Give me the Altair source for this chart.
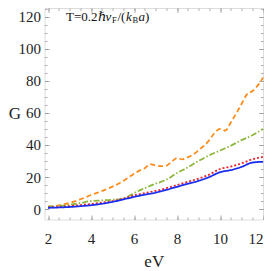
import altair as alt
import pandas as pd

# ---- data ----
orange_x = [2, 2.5, 3, 3.5, 4, 4.5, 5, 5.5, 6, 6.25, 6.5, 6.75, 7, 7.25, 7.5, 7.75, 8, 8.25, 8.5,
            8.75, 9, 9.25, 9.5, 9.75, 10, 10.25, 10.5, 10.75, 11, 11.25, 11.5, 11.75, 12]
orange_y = [1.5, 2.3, 3.8, 6, 8.8, 11.2, 14, 17.5, 22, 24, 25.5, 28, 27.3, 26.8, 27, 29.5, 31.8, 31, 32.3,
            34, 36.6, 39.5, 43, 47.5, 50, 49, 54, 59.5, 65.5, 71.5, 73.5, 77, 82]

grid_x = [2, 2.5, 3, 3.5, 4, 4.5, 5, 5.5, 6, 6.5, 7, 7.5, 8, 8.5, 9, 9.5, 10, 10.5, 11, 11.5, 12]
green_y = [1.5, 1.8, 2.6, 3.8, 5, 5.4, 5.8, 6.5, 10, 13, 15.8, 18.3, 22.5, 26, 30, 33.5, 36.5, 39.5, 43, 46, 50]
red_y = [1, 1.3, 1.8, 2.5, 3.2, 4, 5, 6.5, 8.5, 10, 11.3, 13, 15, 17, 19, 21.5, 25, 26.5, 28.5, 31, 32.5]
blue_y = [0.8, 1, 1.3, 1.8, 2.4, 3.3, 4.5, 6, 7.6, 9, 10.2, 12, 13.9, 15.8, 17.6, 20, 23, 24.3, 26.3, 29, 29.5]

series_names = ["blue", "red", "green", "orange"]
series_colors = ["#1a2ef2", "#e8262b", "#8db63c", "#ff8c1a"]
series_dash = [[1, 0], [2, 2], [6, 2, 1.5, 2], [5, 3]]

x_major = [2, 4, 6, 8, 10, 12]
x_minor = [v / 2 for v in range(4, 25)]
y_major = [0, 20, 40, 60, 80, 100, 120]
y_minor = list(range(0, 126, 5))

title_parts = ["T=0.2", "ℏ", "v", "F", "/(", "k", "B", "a", ")"]

rows = []
for x, y in zip(orange_x, orange_y):
    rows.append({"E": x, "G": y, "s": "orange"})
for name, ys in [("green", green_y), ("red", red_y), ("blue", blue_y)]:
    for x, y in zip(grid_x, ys):
        rows.append({"E": x, "G": y, "s": name})
df = pd.DataFrame(rows)

FONT = "'Liberation Serif', 'DejaVu Serif', serif"
GRAY = "#9a9a9a"
xs = alt.Scale(domain=[1.837, 12], nice=False, zero=False)
ys = alt.Scale(domain=[-6.5, 125.4], nice=False, zero=False)

base = alt.Chart(df)

lines = base.mark_line(strokeWidth=1.8, interpolate="monotone").encode(
    x=alt.X("E:Q", scale=xs, axis=alt.Axis(
        orient="bottom", values=x_major, tickSize=0, domain=False, grid=False,
        labelFont=FONT, labelFontSize=15, labelColor="#222", labelPadding=12,
        title="eV", titleFont=FONT, titleFontSize=17, titleFontWeight="normal",
        titleColor="#222", titleY=42, titleBaseline="middle")),
    y=alt.Y("G:Q", scale=ys, axis=alt.Axis(
        orient="left", values=y_major, tickSize=0, domain=False, grid=False,
        labelFont=FONT, labelFontSize=15, labelColor="#222", labelPadding=4,
        title="G", titleFont=FONT, titleFontSize=17, titleFontWeight="normal",
        titleColor="#222", titleAngle=0, titleX=-30, titleY=105,
        titleAlign="center", titleBaseline="middle")),
    color=alt.Color("s:N", scale=alt.Scale(domain=series_names, range=series_colors), legend=None),
    strokeDash=alt.StrokeDash("s:N", scale=alt.Scale(domain=series_names, range=series_dash), legend=None),
    order=alt.Order("E:Q"),
)


def tick_layer(xorient, yorient, xvals, yvals, size):
    def ax(orient, vals):
        return alt.Axis(orient=orient, values=vals, tickSize=size, offset=-size,
                        tickColor=GRAY, tickWidth=0.8, labels=False, domain=False,
                        grid=False, title=None)
    return base.mark_point(opacity=0).encode(
        x=alt.X("E:Q", scale=xs, axis=ax(xorient, xvals)),
        y=alt.Y("G:Q", scale=ys, axis=ax(yorient, yvals)),
    )


t1 = tick_layer("bottom", "left", x_major, y_major, 4.5)
t2 = tick_layer("bottom", "left", x_minor, y_minor, 2.5)
t3 = tick_layer("top", "right", x_major, y_major, 4.5)
t4 = tick_layer("top", "right", x_minor, y_minor, 2.5)

# annotation text built from pieces (sub-scripts)
tx = [21.5, 53.5, 61, 67.5, 73, 81.5, 88, 94, 100.5]
tdy = [9, 9, 9, 12, 9, 9, 12, 9, 9]
tsize = [13, 13, 13, 8.5, 13, 13, 8.5, 13, 13]
tstyle = ["normal", "italic", "italic", "normal", "normal", "italic", "normal", "italic", "normal"]
texts = []
for p, xx, yy, sz, st in zip(title_parts, tx, tdy, tsize, tstyle):
    texts.append(alt.Chart(pd.DataFrame({"t": [p]})).mark_text(
        align="left", baseline="middle", font=FONT, fontSize=sz, fontStyle=st, color="#111"
    ).encode(x=alt.value(xx), y=alt.value(yy), text="t:N"))

chart = alt.layer(lines, t1, t2, t3, t4, *texts).resolve_axis(
    x="independent", y="independent"
).properties(
    width=218.5, height=211.5,
    autosize=alt.AutoSizeParams(type="none"),
    padding={"left": 36.5, "top": 0, "right": 1, "bottom": 50},
).configure_view(stroke=GRAY, strokeWidth=1).configure(background="white")

chart.save("out.html", embed_options={"renderer": "svg", "actions": False})
